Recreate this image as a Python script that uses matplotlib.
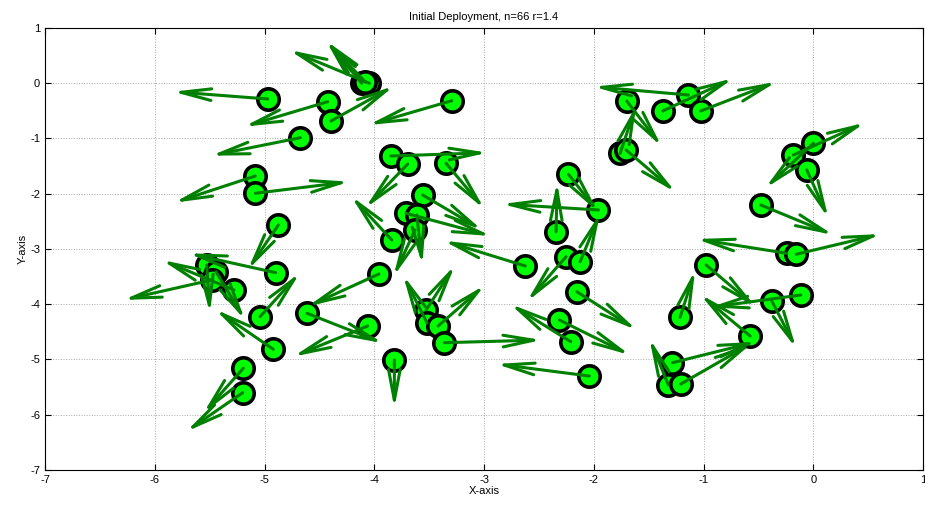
import matplotlib
matplotlib.use("Agg")
import matplotlib.pyplot as plt
import numpy as np

plt.rcParams['font.family'] = ['Liberation Sans', 'DejaVu Sans']
plt.rcParams['axes.unicode_minus'] = False

# node positions (start of each arrow)
node_x = [-4.971, -4.424, -4.394, -4.674, -5.084, -5.084, -4.874, -4.114, -4.045, -3.294,
          -3.850, -3.695, -3.346, -3.559, -3.711, -3.613, -3.629, -3.841, -3.957, -4.613,
          -4.060, -3.817, -3.528, -3.519, -3.419, -3.362, -2.624, -1.958, -2.344, -2.253,
          -2.125, -2.155, -2.314, -2.210, -2.041, -1.214, -1.284, -1.321, -1.208, -0.977,
          -0.379, -0.114, -0.576, -0.242, -0.157, -0.479, 0.000, -0.182, -0.060, -1.700,
          -1.372, -1.138, -1.026, -1.761, -1.706, -2.232, -5.527, -5.442, -5.481, -5.278,
          -4.898, -5.041, -4.920, -5.193, -5.199, -4.080]
node_y = [-0.285, -0.334, -0.683, -0.986, -1.679, -1.992, -2.566, -0.001, -0.001, -0.316,
          -1.317, -1.462, -1.449, -2.023, -2.354, -2.385, -2.656, -2.837, -3.452, -4.164,
          -4.394, -5.009, -4.104, -4.339, -4.394, -4.696, -3.308, -2.294, -2.687, -3.140,
          -3.230, -3.773, -4.285, -4.678, -5.299, -4.236, -5.058, -5.462, -5.443, -3.290,
          -3.941, -3.833, -4.575, -3.078, -3.096, -2.204, -1.087, -1.299, -1.570, -0.321,
          -0.502, -0.213, -0.502, -1.268, -1.208, -1.648, -3.290, -3.411, -3.561, -3.742,
          -3.429, -4.225, -4.815, -5.159, -5.601, 0.020]

# arrow tips (direction of motion)
tip_x = [-5.836, -5.187, -3.820, -5.487, -5.825, -4.227, -5.153, -4.440, -4.777, -4.054,
         -2.966, -4.084, -2.997, -3.018, -2.936, -3.562, -3.826, -4.212, -4.610, -3.918,
         -4.740, -3.817, -3.264, -3.738, -2.991, -2.474, -3.371, -2.839, -2.335, -2.611,
         -1.943, -1.609, -1.670, -2.763, -2.891, -1.077, -0.515, -1.494, -0.561, -0.522,
         -0.157, -0.941, -1.032, -1.068, 0.617, 0.183, -0.440, 0.472, 0.137, -1.381,
         -0.728, -2.004, -0.333, -1.615, -1.253, -1.961, -5.497, -5.178, -6.287, -5.937,
         -5.694, -4.677, -5.451, -5.558, -5.715, -4.440]
tip_y = [-0.153, -0.786, -0.050, -1.311, -2.162, -1.782, -3.380, 0.770, 0.602, -0.756,
         -1.257, -2.263, -2.276, -2.656, -2.765, -3.290, -3.501, -2.041, -4.044, -4.707,
         -4.949, -5.883, -3.290, -3.471, -3.652, -4.647, -2.850, -2.186, -1.787, -3.954,
         -2.354, -4.466, -4.919, -3.995, -5.081, -3.380, -4.678, -4.616, -4.707, -4.055,
         -4.797, -4.055, -3.820, -2.819, -2.729, -2.747, -1.901, -0.714, -2.444, -1.148,
         0.090, -0.062, 0.028, -0.412, -1.974, -2.330, -4.164, -4.285, -3.923, -3.199,
         -3.078, -3.429, -4.091, -5.974, -6.307, 0.770]

x_ticks = [-7, -6, -5, -4, -3, -2, -1, 0, 1]
y_ticks = [1, 0, -1, -2, -3, -4, -5, -6, -7]

fig = plt.figure(figsize=(9.25, 5.05), dpi=100)
ax = fig.add_axes([0.0486, 0.0693, 0.9494, 0.8753])

ax.plot(node_x, node_y, 'o', ms=15.4, mfc='#00ff00', mec='black', mew=2.6, zorder=3)

for x0, y0, x1, y1 in zip(node_x, node_y, tip_x, tip_y):
    ax.annotate('', xy=(x1, y1), xytext=(x0, y0),
                arrowprops=dict(arrowstyle='->,head_length=2.2,head_width=0.42',
                                color='#008000', lw=2.2, shrinkA=0, shrinkB=0),
                zorder=4)

ax.set_xlim(-7, 1)
ax.set_ylim(-7, 1)
ax.set_xticks(x_ticks)
ax.set_yticks(y_ticks)
ax.grid(True, linestyle=':', color='#aaaaaa', linewidth=0.7)
ax.tick_params(direction='in', top=True, right=True, labelsize=8, length=4)
for s in ax.spines.values():
    s.set_linewidth(0.8)
ax.set_xlabel('X-axis', fontsize=8, labelpad=1)
ax.set_ylabel('Y-axis', fontsize=8, labelpad=2)
ax.set_title('Initial Deployment, n=66 r=1.4', fontsize=8, pad=6)

fig.savefig('out.png', dpi=100)
